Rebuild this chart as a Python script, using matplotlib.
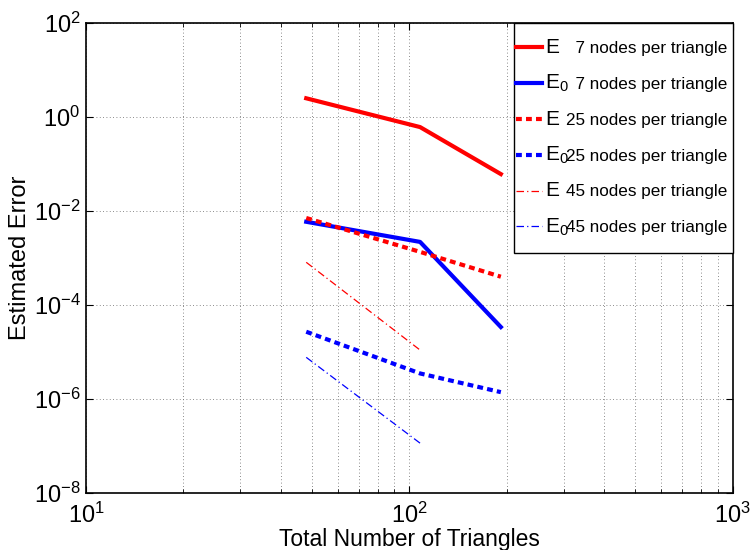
import matplotlib
matplotlib.use("Agg")
import matplotlib.pyplot as plt
from matplotlib.patches import Rectangle
from matplotlib.ticker import LogLocator, NullFormatter, LogFormatterSciNotation

plt.rcParams['font.family'] = ['Liberation Sans', 'DejaVu Sans']
plt.rcParams['mathtext.fontset'] = 'custom'
plt.rcParams['mathtext.rm'] = 'Liberation Sans'
plt.rcParams['mathtext.it'] = 'Liberation Sans:italic'
plt.rcParams['mathtext.bf'] = 'Liberation Sans:bold'

triangles = [48, 108, 192]
triangles45 = [48, 108]

E7 = [2.5, 0.61, 0.061]
E0_7 = [5.9e-3, 2.2e-3, 3.4e-5]
E25 = [7.1e-3, 1.35e-3, 4.0e-4]
E0_25 = [2.7e-5, 3.5e-6, 1.4e-6]
E45 = [8.1e-4, 1.1e-5]
E0_45 = [7.7e-6, 1.15e-7]

prefixes = ["E", "E$_0$", "E", "E$_0$", "E", "E$_0$"]
suffixes = ["  7 nodes per triangle", "  7 nodes per triangle", "25 nodes per triangle",
            "25 nodes per triangle", "45 nodes per triangle", "45 nodes per triangle"]

fig = plt.figure(figsize=(7.5, 5.5), dpi=100)
ax = fig.add_axes([0.1147, 0.1036, 0.862, 0.8546])

dash = (0, (1.4, 1.0))
dashdot = (0, (6, 2.5, 1, 2.5))
ax.plot(triangles, E7, color=(1, 0, 0), lw=3, ls='-')
ax.plot(triangles, E0_7, color=(0, 0, 1), lw=3, ls='-')
ax.plot(triangles, E25, color=(1, 0, 0), lw=3, ls=dash)
ax.plot(triangles, E0_25, color=(0, 0, 1), lw=3, ls=dash)
ax.plot(triangles45, E45, color=(1, 0, 0), lw=0.9, ls=dashdot)
ax.plot(triangles45, E0_45, color=(0, 0, 1), lw=0.9, ls=dashdot)

ax.set_xscale('log')
ax.set_yscale('log')
ax.set_xlim(10, 1000)
ax.set_ylim(1e-8, 1e2)

ax.xaxis.set_major_locator(LogLocator(base=10, numticks=10))
ax.xaxis.set_minor_locator(LogLocator(base=10, subs=range(2, 10), numticks=20))
ax.xaxis.set_minor_formatter(NullFormatter())
ax.yaxis.set_major_locator(LogLocator(base=100, numticks=10))
ax.yaxis.set_major_formatter(LogFormatterSciNotation(base=10))
ax.yaxis.set_minor_locator(LogLocator(base=10, subs=(1.0,), numticks=20))
ax.yaxis.set_minor_formatter(NullFormatter())

ax.tick_params(which='both', direction='in', top=True, right=True, labelsize=17)
ax.tick_params(which='major', length=5, width=0.8)
ax.tick_params(which='minor', length=3, width=0.6)
ax.tick_params(axis='y', which='minor', length=0)
ax.tick_params(axis='x', pad=7)
ax.tick_params(axis='y', pad=4)

ax.grid(True, which='major', axis='both', color='#666666', ls=(0, (1, 3)), lw=0.6)
ax.grid(True, which='minor', axis='x', color='#666666', ls=(0, (1, 3)), lw=0.6)
for s in ax.spines.values():
    s.set_linewidth(1.2)

ax.set_xlabel("Total Number of Triangles", fontsize=16.5, labelpad=0)
ax.set_ylabel("Estimated Error", fontsize=17, labelpad=2)

vpad_px = 13
ax_h_px = 0.8546 * 550
handles = ax.get_lines()
leg = ax.legend(handles, suffixes, loc='upper right', fontsize=12.3, frameon=False,
                bbox_to_anchor=(1.0, 1.0 - vpad_px / ax_h_px),
                borderaxespad=0.0, handlelength=1.52, handletextpad=1.4,
                labelspacing=1.22, borderpad=0.3)

# draw once to measure the legend and place the box and the larger "E"/"E0" symbols
fig.canvas.draw()
renderer = fig.canvas.get_renderer()
inv = fig.transFigure.inverted()
lbb = leg.get_window_extent(renderer)
x0 = lbb.x0 + 3
y0 = lbb.y0 - vpad_px
inv_ax = ax.transAxes.inverted()
ax0, ay0 = inv_ax.transform((x0, y0))
box = Rectangle((ax0, ay0), 1.0 - ax0, 1.0 - ay0, transform=ax.transAxes,
                facecolor='white', edgecolor='black', lw=1.0, zorder=4.5, clip_on=False)
ax.add_patch(box)

for t, p in zip(leg.get_texts(), prefixes):
    bb = t.get_window_extent(renderer)
    _, _, desc = renderer.get_text_width_height_descent(t.get_text(), t.get_fontproperties(), ismath=False)
    base_y = bb.y0 + desc
    x = bb.x0 - 21
    fx, fy = inv.transform((x, base_y))
    fig.text(fx, fy, p, fontsize=15, va='baseline', ha='left', zorder=10)

fig.savefig("out.png", dpi=100)
